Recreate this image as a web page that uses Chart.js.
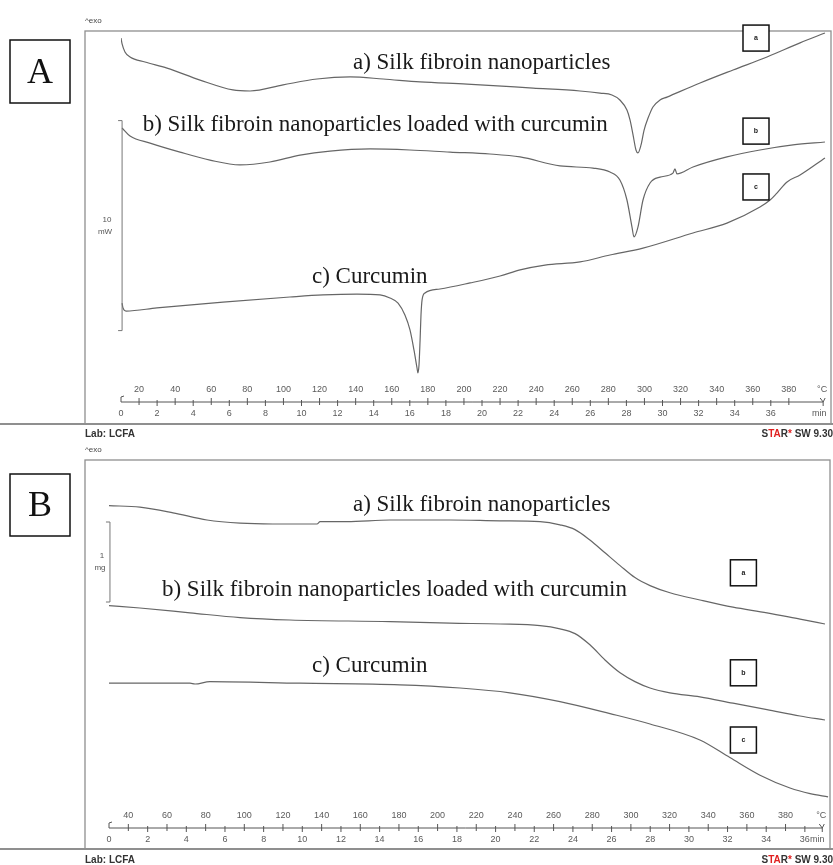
<!DOCTYPE html>
<html>
<head>
<meta charset="utf-8">
<script src="https://cdn.jsdelivr.net/npm/chart.js@4"></script>
<style>
  html, body { margin: 0; padding: 0; background: #fff; width: 833px; height: 865px; overflow: hidden; }
  #wrap { position: relative; width: 833px; height: 865px; }
  canvas { position: absolute; left: 0; }
  #cA { top: 0; }
  #cB { top: 440px; }
</style>
</head>
<body>
<div id="wrap">
  <canvas id="cA" width="833" height="440"></canvas>
  <canvas id="cB" width="833" height="425"></canvas>
</div>
<script>
// ---------- shared ----------
const curveNames = [
  'a) Silk fibroin nanoparticles',
  'b) Silk fibroin nanoparticles loaded with curcumin',
  'c) Curcumin'
];
const markerGlyphs = ['a', 'b', 'c'];
const heatingRate = 10; // K/min

// ---------- panel A: DSC, heat flow (mW) vs time (min) ----------
const dscStartTemp = 10;  // °C at t = 0
const dscEndTime = 38.9;  // min
const dscTicksMin = [0,2,4,6,8,10,12,14,16,18,20,22,24,26,28,30,32,34,36];
const dscTicksTemp = [20,40,60,80,100,120,140,160,180,200,220,240,260,280,300,320,340,360,380];

const dscTimeA = [0.00,0.06,0.22,0.50,1.33,2.55,4.38,6.20,7.15,8.98,10.86,12.69,14.52,16.57,19.17,22.83,25.43,26.54,27.20,27.64,28.03,28.20,28.37,28.53,28.64,28.81,28.98,29.20,29.47,29.86,30.25,32.08,33.91,35.79,37.62,39.00];
const dscFlowA = [17.33,17.05,16.67,16.43,16.19,15.90,15.33,14.86,14.81,15.10,15.38,15.48,15.38,15.24,15.14,14.95,14.81,14.71,14.62,14.38,13.90,13.43,12.71,12.00,11.86,12.24,12.95,13.52,14.05,14.38,14.52,15.19,15.81,16.43,17.10,17.57];

const dscTimeB = [0.06,0.50,1.61,3.27,4.93,6.59,8.25,9.92,11.58,13.80,16.01,18.23,20.44,22.11,24.32,26.15,27.09,27.64,28.03,28.31,28.42,28.64,28.92,29.31,29.86,30.58,30.69,30.80,31.69,33.57,35.40,37.23,39.00];
const dscFlowB = [13.05,12.67,12.33,11.90,11.52,11.29,11.43,11.76,11.95,12.05,12.00,11.90,11.81,11.67,11.24,11.14,10.95,10.57,9.62,8.33,7.86,8.33,9.62,10.43,10.71,10.90,11.10,10.86,11.19,11.67,12.00,12.24,12.38];

const dscTimeC = [0.06,0.11,0.28,1.99,5.65,9.36,11.19,13.07,14.35,14.90,15.35,15.73,16.01,16.23,16.40,16.45,16.51,16.57,16.62,16.68,16.84,17.67,19.34,21.00,22.11,23.49,25.43,27.09,28.92,31.69,33.57,35.40,35.96,36.34,36.90,37.62,39.00];
const dscFlowC = [4.71,4.48,4.33,4.48,4.76,5.00,5.10,5.14,5.10,4.95,4.71,4.14,3.43,2.48,1.62,1.38,1.76,2.95,4.14,4.86,5.19,5.38,5.67,6.00,6.29,6.52,6.67,7.00,7.33,8.05,8.52,9.29,9.62,9.95,10.48,10.81,11.62];

// ---------- panel B: TGA, mass (mg) vs time (min) ----------
const tgaStartTemp = 30;
const tgaEndTime = 36.9;
const tgaTicksMin = [0,2,4,6,8,10,12,14,16,18,20,22,24,26,28,30,32,34,36];
const tgaTicksTemp = [40,60,80,100,120,140,160,180,200,220,240,260,280,300,320,340,360,380];

const tgaTimeA = [0.00,1.60,3.31,5.07,6.78,8.48,10.76,10.92,12.31,14.54,17.64,20.23,22.30,23.33,24.11,24.88,25.66,26.44,27.21,27.99,29.02,30.57,32.28,34.04,35.75,37.04];
const tgaMassA = [4.03,4.01,3.94,3.85,3.81,3.80,3.80,3.83,3.83,3.85,3.85,3.84,3.83,3.79,3.73,3.60,3.44,3.28,3.13,3.03,2.94,2.85,2.76,2.69,2.61,2.55];

const tgaTimeB = [0.00,1.60,4.19,6.78,9.36,14.54,17.64,20.23,22.30,23.33,24.11,24.88,25.66,26.44,27.21,27.99,29.02,30.57,32.28,34.04,35.75,37.04];
const tgaMassB = [2.78,2.75,2.69,2.63,2.60,2.58,2.56,2.55,2.53,2.49,2.43,2.29,2.10,1.94,1.83,1.75,1.69,1.64,1.56,1.48,1.40,1.35];

const tgaTimeC = [0.00,4.19,4.45,5.22,9.88,15.05,18.16,20.74,23.33,25.92,27.99,30.57,32.12,33.68,35.23,36.27,37.20];
const tgaMassC = [1.81,1.81,1.80,1.83,1.81,1.79,1.75,1.69,1.58,1.43,1.30,1.10,0.88,0.66,0.50,0.43,0.39];

// ---------- drawing helpers ----------
const SERIF = '"Liberation Serif","Times New Roman",serif';
const SANS = '"Liberation Sans",Arial,sans-serif';
const CURVE = '#666';

function pairs(xs, ys) { return xs.map((x, i) => ({ x: x, y: ys[i] })); }

function curve(xs, ys) {
  return {
    data: pairs(xs, ys),
    borderColor: CURVE,
    borderWidth: 1.2,
    pointRadius: 0,
    fill: false,
    cubicInterpolationMode: 'monotone'
  };
}

function line(ctx, x1, y1, x2, y2) {
  ctx.beginPath(); ctx.moveTo(x1, y1); ctx.lineTo(x2, y2); ctx.stroke();
}

function decorPlugin(p) {
  return {
    id: 'decor' + p.key,
    beforeDatasetsDraw(chart) {
      const ctx = chart.ctx;
      ctx.save();
      // plot frame
      ctx.strokeStyle = '#8f8f8f';
      ctx.lineWidth = 1.3;
      ctx.strokeRect(p.frame.l, p.frame.t, p.frame.r - p.frame.l, p.frame.b - p.frame.t);
      ctx.lineWidth = 2;
      line(ctx, 0, p.frame.b, 833, p.frame.b);
      // panel letter
      ctx.lineWidth = 1.5;
      ctx.strokeStyle = '#111';
      ctx.strokeRect(p.letterBox.l, p.letterBox.t, p.letterBox.w, p.letterBox.h);
      ctx.fillStyle = '#111';
      ctx.font = '36px ' + SERIF;
      ctx.textAlign = 'center';
      ctx.textBaseline = 'middle';
      ctx.fillText(p.letter, p.letterBox.l + p.letterBox.w / 2, p.letterBox.t + p.letterBox.h / 2 + 2);
      // ^exo and footer
      ctx.fillStyle = '#444';
      ctx.font = '8px ' + SANS;
      ctx.textAlign = 'left';
      ctx.fillText('^exo', p.frame.l, p.exoY);
      ctx.font = 'bold 10px ' + SANS;
      ctx.fillStyle = '#333';
      ctx.fillText('Lab: LCFA', p.frame.l, p.footY);
      const full = 'STAR* SW 9.30';
      let x = 833 - ctx.measureText(full).width;
      const segs = [['S', '#333'], ['TA', '#e02020'], ['R', '#333'], ['*', '#e02020'], [' SW 9.30', '#333']];
      segs.forEach(s => { ctx.fillStyle = s[1]; ctx.fillText(s[0], x, p.footY); x += ctx.measureText(s[0]).width; });
      ctx.restore();
    },
    afterDatasetsDraw(chart) {
      const ctx = chart.ctx;
      const xs = chart.scales.x, ys = chart.scales.y;
      const X = v => xs.getPixelForValue(v), Y = v => ys.getPixelForValue(v);
      ctx.save();
      // curve captions
      ctx.fillStyle = '#1a1a1a';
      ctx.font = '23px ' + SERIF;
      ctx.textAlign = 'left';
      ctx.textBaseline = 'middle';
      p.labels.forEach((l, i) => ctx.fillText(curveNames[i], X(l[0]), Y(l[1])));
      // curve markers
      p.markers.forEach((m, i) => {
        const cx = X(m[0]), cy = Y(m[1]), s = 26;
        ctx.fillStyle = '#fff';
        ctx.fillRect(cx - s / 2, cy - s / 2, s, s);
        ctx.strokeStyle = '#111';
        ctx.lineWidth = 1.5;
        ctx.strokeRect(cx - s / 2, cy - s / 2, s, s);
        ctx.fillStyle = '#222';
        ctx.font = 'bold 7px ' + SANS;
        ctx.textAlign = 'center';
        ctx.fillText(markerGlyphs[i], cx, cy);
      });
      // scale bar
      const sb = p.scaleBar;
      const bx = X(sb.x), by1 = Y(sb.y0), by2 = Y(sb.y0 + sb.len);
      ctx.strokeStyle = '#777';
      ctx.lineWidth = 1;
      line(ctx, bx, by1, bx, by2);
      line(ctx, bx - 4, by1, bx, by1);
      line(ctx, bx - 4, by2, bx, by2);
      ctx.fillStyle = '#555';
      ctx.font = '8px ' + SANS;
      ctx.textAlign = 'center';
      ctx.fillText(sb.num, sb.tx, Y(sb.y0 + sb.len / 2) - 6);
      ctx.fillText(sb.unit, sb.tx - 2, Y(sb.y0 + sb.len / 2) + 6);
      // time / temperature axis
      const a = p.axis;
      const y0 = ys.getPixelForValue(0);
      ctx.strokeStyle = '#555';
      ctx.lineWidth = 1;
      line(ctx, X(0), y0, X(a.end), y0);
      line(ctx, X(0), y0, X(0), y0 - 5);
      line(ctx, X(0), y0 - 5, X(0) + 3, y0 - 6);
      const xe = X(a.end);
      line(ctx, xe, y0 + 4, xe, y0);
      line(ctx, xe, y0, xe - 3, y0 - 4);
      line(ctx, xe, y0, xe + 2, y0 - 4);
      ctx.fillStyle = '#5a5a5a';
      ctx.font = '9px ' + SANS;
      ctx.textAlign = 'center';
      a.temps.forEach(T => {
        const t = (T - a.t0) / heatingRate, px = X(t);
        line(ctx, px, y0 - 4, px, y0 + 3);
        ctx.fillText(String(T), px, y0 - 12);
      });
      a.mins.forEach(m => {
        const px = X(m);
        if (m > 0) line(ctx, px, y0 - 2, px, y0 + 4);
        ctx.fillText(String(m), px, y0 + 12);
      });
      ctx.fillText('°C', xe - 1, y0 - 12);
      ctx.textAlign = 'left';
      ctx.fillText('min', a.minX, y0 + 12);
      ctx.restore();
    }
  };
}

function makeChart(id, datasets, xMax, yMax, padding, plugin) {
  return new Chart(document.getElementById(id), {
    type: 'line',
    data: { datasets: datasets },
    options: {
      responsive: false,
      animation: false,
      devicePixelRatio: 1,
      layout: { padding: padding },
      plugins: { legend: { display: false }, tooltip: { enabled: false } },
      scales: {
        x: { type: 'linear', min: 0, max: xMax, display: false },
        y: { type: 'linear', min: 0, max: yMax, display: false }
      }
    },
    plugins: [plugin]
  });
}

// ---------- panel A ----------
makeChart('cA',
  [curve(dscTimeA, dscFlowA), curve(dscTimeB, dscFlowB), curve(dscTimeC, dscFlowC)],
  39.2, 17.667,
  { left: 121, right: 4.44, top: 31, bottom: 38 },
  decorPlugin({
    key: 'A', letter: 'A',
    frame: { l: 85, t: 31, r: 831, b: 424 },
    letterBox: { l: 10, t: 40, w: 60, h: 63 },
    exoY: 21, footY: 434,
    labels: [[12.85, 16.14], [1.2, 13.19], [10.58, 5.95]],
    markers: [[35.18, 17.33], [35.18, 12.90], [35.18, 10.24]],
    scaleBar: { x: 0.06, y0: 3.40, len: 10, num: '10', unit: 'mW', tx: 107 },
    axis: { t0: dscStartTemp, end: dscEndTime, temps: dscTicksTemp, mins: dscTicksMin, minX: 812 }
  })
);

// ---------- panel B ----------
makeChart('cB',
  [curve(tgaTimeA, tgaMassA), curve(tgaTimeB, tgaMassB), curve(tgaTimeC, tgaMassC)],
  37.3, 4.6,
  { left: 109, right: 3, top: 20, bottom: 37 },
  decorPlugin({
    key: 'B', letter: 'B',
    frame: { l: 85, t: 20, r: 830, b: 409 },
    letterBox: { l: 10, t: 34, w: 60, h: 62 },
    exoY: 10, footY: 420,
    labels: [[12.62, 4.04], [2.74, 2.975], [10.50, 2.025]],
    markers: [[32.82, 3.19], [32.82, 1.94], [32.82, 1.10]],
    scaleBar: { x: 0.05, y0: 2.825, len: 1, num: '1', unit: 'mg', tx: 102 },
    axis: { t0: tgaStartTemp, end: tgaEndTime, temps: tgaTicksTemp, mins: tgaTicksMin, minX: 810 }
  })
);
</script>
</body>
</html>
